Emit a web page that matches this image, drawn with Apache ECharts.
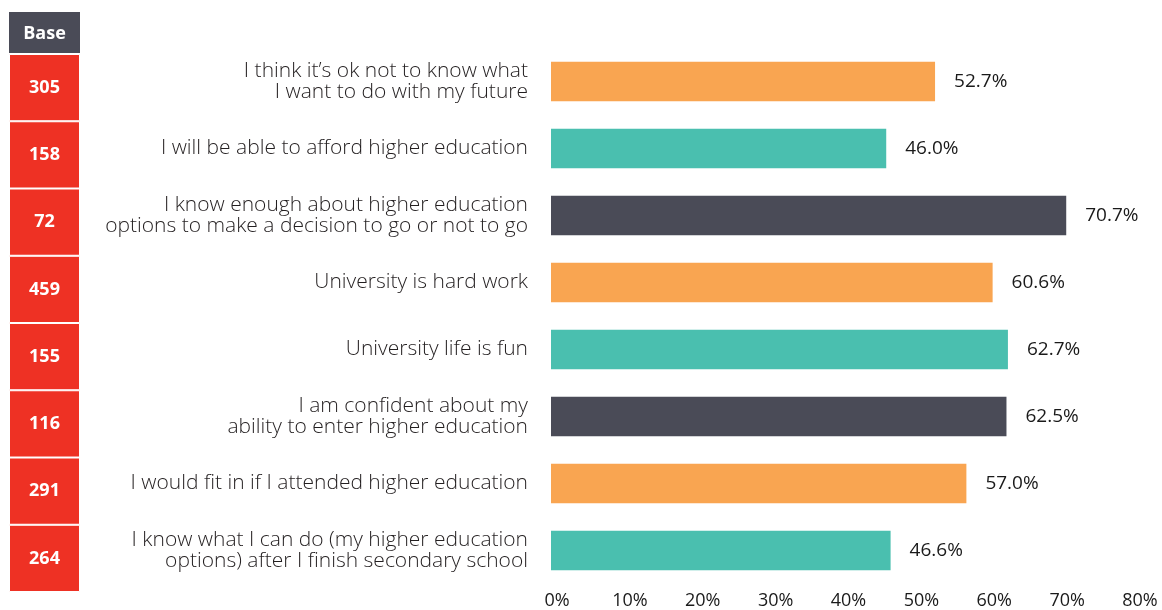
<!DOCTYPE html>
<html>
<head>
<meta charset="utf-8">
<script src="https://cdn.jsdelivr.net/npm/echarts@6/dist/echarts.min.js"></script>
<style>
  html, body { margin: 0; padding: 0; background: #ffffff; }
  #chart { width: 1162px; height: 610px; }
</style>
</head>
<body>
<div id="chart"></div>
<script>
// Statements, top to bottom
const statements = [
  'I think it\u2019s ok not to know what\nI want to do with my future',
  'I will be able to afford higher education',
  'I know enough about higher education\noptions to make a decision to go or not to go',
  'University is hard work',
  'University life is fun',
  'I am confident about my\nability to enter higher education',
  'I would fit in if I attended higher education',
  'I know what I can do (my higher education\noptions) after I finish secondary school'
];
// Share agreeing (%)
const agreePct = [52.7, 46.0, 70.7, 60.6, 62.7, 62.5, 57.0, 46.6];
// Number of respondents per statement
const baseCounts = [305, 158, 72, 459, 155, 116, 291, 264];
// Bar colour cycle
const barColors = ['#F9A551', '#4ABFAF', '#4A4B57'];
const tickValues = [0, 10, 20, 30, 40, 50, 60, 70, 80];

const FONT = '"Open Sans", "Noto Sans", sans-serif';
const chart = echarts.init(document.getElementById('chart'), null, { renderer: 'canvas' });

chart.setOption({
  animation: false,
  backgroundColor: '#ffffff',
  graphic: [
    {
      type: 'group',
      left: 9, top: 12,
      children: [
        { type: 'rect', shape: { x: 0, y: 0, width: 71, height: 41 }, style: { fill: '#4A4B57' } },
        { type: 'text', x: 35.5, y: 22, style: {
            text: 'Base', fill: '#ffffff', font: 'bold 18px ' + FONT,
            align: 'center', verticalAlign: 'middle' } }
      ]
    }
  ],
  grid: [
    { left: 551, right: 28, top: 48, height: 541 },
    { left: 9, width: 71, top: 54, height: 538 }
  ],
  xAxis: [
    {
      gridIndex: 0, type: 'value', min: 0, max: 80, interval: 10,
      axisLine: { show: false }, axisTick: { show: false }, splitLine: { show: false },
      axisLabel: {
        margin: 8, color: '#1a1a1a', fontSize: 18, fontFamily: FONT,
        padding: [0, 0, 0, 12],
        formatter: v => (tickValues.indexOf(v) >= 0 ? v + '%' : '')
      }
    },
    { gridIndex: 1, type: 'value', min: 0, max: 1, show: false }
  ],
  yAxis: [
    {
      gridIndex: 0, type: 'category', inverse: true, data: statements,
      axisLine: { show: false }, axisTick: { show: false },
      axisLabel: {
        margin: 23, color: '#231F20', fontSize: 21, fontFamily: FONT,
        fontWeight: 300, lineHeight: 21, align: 'right',
        padding: [0, 0, 6, 0]
      }
    },
    {
      gridIndex: 1, type: 'category', inverse: true, data: baseCounts.map(String), show: false
    }
  ],
  series: [
    {
      type: 'bar', xAxisIndex: 0, yAxisIndex: 0,
      barCategoryGap: '41%',
      data: agreePct.map((v, i) => ({ value: v, itemStyle: { color: barColors[i % 3] } })),
      label: {
        show: true, position: 'right', distance: 19,
        color: '#1a1a1a', fontSize: 19, fontFamily: FONT,
        formatter: p => p.value.toFixed(1) + '%'
      }
    },
    {
      type: 'bar', xAxisIndex: 1, yAxisIndex: 1,
      barCategoryGap: '0%',
      data: baseCounts.map(v => ({ value: 1, base: v })),
      itemStyle: { color: '#EE3124', borderColor: '#ffffff', borderWidth: 1 },
      label: {
        show: true, position: 'inside', color: '#ffffff',
        fontSize: 18, fontWeight: 'bold', fontFamily: FONT,
        formatter: p => String(baseCounts[p.dataIndex])
      }
    }
  ]
});
</script>
</body>
</html>
